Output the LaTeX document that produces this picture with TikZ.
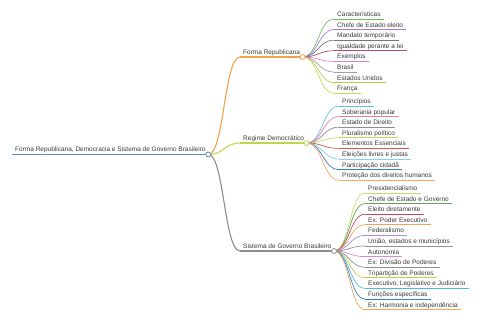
\documentclass[tikz,border=0pt]{standalone}
\usepackage{fontspec}
\setmainfont{Liberation Sans}
\usetikzlibrary{calc}
\definecolor{cRoot}{HTML}{5B8FC7}
\definecolor{cB1}{HTML}{F5A14A}
\definecolor{cB2}{HTML}{C2D44E}
\definecolor{cB3}{HTML}{8C8C8C}
\definecolor{cGreen}{HTML}{6CBF5F}
\definecolor{cPurple}{HTML}{9D7FD8}
\definecolor{cGreyPurple}{HTML}{7F6F8F}
\definecolor{cPlum}{HTML}{B0487F}
\definecolor{cOrchid}{HTML}{E07FD0}
\definecolor{cGrey}{HTML}{A0A0A0}
\definecolor{cYG}{HTML}{BCCB4C}
\definecolor{cYG2}{HTML}{C9D65A}
\definecolor{cCyan}{HTML}{5EC5E0}
\definecolor{cPink}{HTML}{EA7FA6}
\definecolor{cSlate}{HTML}{8A8AA0}
\definecolor{cRed}{HTML}{D9534F}
\definecolor{cLCyan}{HTML}{86D3EA}
\definecolor{cBlue}{HTML}{3F7FBF}
\definecolor{cOrange}{HTML}{F5A76A}
\definecolor{cYG3}{HTML}{C8DC6A}
\definecolor{cDGreen}{HTML}{5AA85A}
\definecolor{cCrimson}{HTML}{C9436B}
\definecolor{cOrange2}{HTML}{F2A454}
\definecolor{cLav}{HTML}{A48FE0}
\definecolor{cGrey2}{HTML}{9A8F9F}
\definecolor{cPink2}{HTML}{E287C8}
\definecolor{cGrey3}{HTML}{8F8F8F}
\definecolor{cYG4}{HTML}{BFD145}
\definecolor{cCyan2}{HTML}{4AB8E0}
\definecolor{cBlue2}{HTML}{3A80C0}
\newcommand\mmleaf[6]{%
  \node[txt] (#2) at (#3,#4-2.5) {#6};
  \coordinate (#2s) at ($(#2.base west)+(-3,2.5)$);
  \coordinate (#2e) at ($(#2.base east)+(3,2.5)$);
  \draw[#5, leafline] (#2s) -- (#2e);
  \draw[#5, leafline] let \p1=(#1), \p2=(#2s) in (\p1) .. controls ({0.5*\x1+0.5*\x2},\y1) and ({0.5*\x1+0.5*\x2},\y2) .. (\p2);
}
\newcommand\mmbranch[5]{% name, x, underline y, color, text
  \node[txt] (#1t) at (#2,#3-2.5) {#5};
  \coordinate (#1s) at ($(#1t.base west)+(-3,2.5)$);
  \coordinate (#1) at ($(#1t.base east)+(2.5,2.5)$);
  \draw[#4, branchline] (#1s) -- (#1);
  \draw[#4, branchline] let \p1=(r), \p2=(#1s) in (\p1) .. controls ({0.5*\x1+0.5*\x2},\y1) and ({0.5*\x1+0.5*\x2},\y2) .. (\p2);
}
\begin{document}
\begin{tikzpicture}[x=1pt,y=-1pt,
  txt/.style={font=\fontsize{6.5}{7}\selectfont, text=black!78, inner sep=0pt, anchor=base west},
  dot/.style={circle, fill=white, inner sep=0pt, minimum size=5pt, line width=0.8pt},
  leafline/.style={line width=0.7pt},
  branchline/.style={line width=1.1pt},
]
\useasboundingbox (0,0) rectangle (480,320);
% root
\node[txt] (rt) at (15,152) {Forma Republicana, Democracia e Sistema de Governo Brasileiro};
\coordinate (rs) at ($(rt.base west)+(-3,2.5)$);
\coordinate (r) at ($(rt.base east)+(2.5,2.5)$);
\draw[cRoot, line width=1.8pt] (rs) -- (r);
% branches
\mmbranch{b1}{243}{57}{cB1}{Forma Republicana}
\mmbranch{b2}{243}{143}{cB2}{Regime Democrático}
\mmbranch{b3}{243}{251}{cB3}{Sistema de Governo Brasileiro}
% branch 1 leaves
\mmleaf{b1}{a1}{337}{19}{cGreen}{Características}
\mmleaf{b1}{a2}{337}{29.6}{cPurple}{Chefe de Estado eleito}
\mmleaf{b1}{a3}{337}{40.2}{cGreyPurple}{Mandato temporário}
\mmleaf{b1}{a4}{337}{50.8}{cPlum}{Igualdade perante a lei}
\mmleaf{b1}{a5}{337}{61.4}{cOrchid}{Exemplos}
\mmleaf{b1}{a6}{337}{72}{cGrey}{Brasil}
\mmleaf{b1}{a7}{337}{82.6}{cYG}{Estados Unidos}
\mmleaf{b1}{a8}{337}{93.2}{cYG2}{França}
% branch 2 leaves
\mmleaf{b2}{d1}{342}{106}{cCyan}{Princípios}
\mmleaf{b2}{d2}{342}{116.6}{cPink}{Soberania popular}
\mmleaf{b2}{d3}{342}{127.2}{cSlate}{Estado de Direito}
\mmleaf{b2}{d4}{342}{137.8}{cYG2}{Pluralismo político}
\mmleaf{b2}{d5}{342}{148.4}{cRed}{Elementos Essenciais}
\mmleaf{b2}{d6}{342}{159}{cLCyan}{Eleições livres e justas}
\mmleaf{b2}{d7}{342}{169.6}{cBlue}{Participação cidadã}
\mmleaf{b2}{d8}{342}{180.2}{cOrange}{Proteção dos direitos humanos}
% branch 3 leaves
\mmleaf{b3}{s1}{368}{193}{cYG3}{Presidencialismo}
\mmleaf{b3}{s2}{368}{203.6}{cDGreen}{Chefe de Estado e Governo}
\mmleaf{b3}{s3}{368}{214.2}{cCrimson}{Eleito diretamente}
\mmleaf{b3}{s4}{368}{224.8}{cOrange2}{Ex: Poder Executivo}
\mmleaf{b3}{s5}{368}{235.4}{cLav}{Federalismo}
\mmleaf{b3}{s6}{368}{246}{cGrey2}{União, estados e municípios}
\mmleaf{b3}{s7}{368}{256.6}{cPink2}{Autonomia}
\mmleaf{b3}{s8}{368}{267.2}{cGrey3}{Ex: Divisão de Poderes}
\mmleaf{b3}{s9}{368}{277.8}{cYG4}{Tripartição de Poderes}
\mmleaf{b3}{s10}{368}{288.4}{cCyan2}{Executivo, Legislativo e Judiciário}
\mmleaf{b3}{s11}{368}{299}{cBlue2}{Funções específicas}
\mmleaf{b3}{s12}{368}{309.6}{cOrange2}{Ex: Harmonia e independência}
% circles on top
\node[dot, draw=cRoot] (rdot) at (r) {};
\node[dot, draw=cB1] (b1dot) at (b1) {};
\node[dot, draw=cB2] (b2dot) at (b2) {};
\node[dot, draw=cB3] (b3dot) at (b3) {};
\end{tikzpicture}
\end{document}
